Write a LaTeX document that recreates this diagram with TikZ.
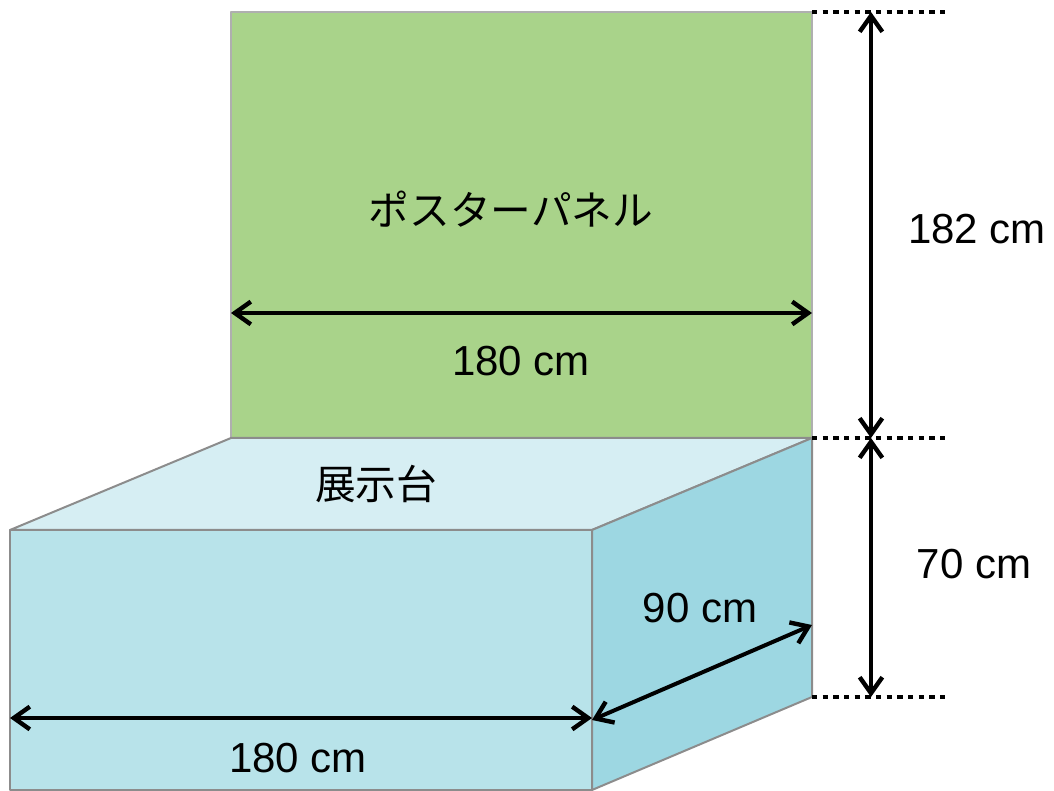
\documentclass[tikz,border=0pt]{standalone}
\usepackage{fontspec}
\setmainfont{Liberation Sans}
\newfontfamily\cjk{Noto Sans CJK JP}
\usetikzlibrary{arrows.meta}
\definecolor{panelgreen}{HTML}{A9D38A}
\definecolor{topface}{HTML}{D6EEF3}
\definecolor{frontface}{HTML}{B8E3EA}
\definecolor{sideface}{HTML}{9DD7E2}
\definecolor{edgegray}{HTML}{8C8C8C}
\begin{document}
\begin{tikzpicture}[x=0.75pt,y=-0.75pt,
  face/.style={draw=edgegray,line width=1.5pt,line join=round},
  dimarrow/.style={line width=3pt,{Straight Barb[length=12pt,width=17pt,line width=3.3pt]}-{Straight Barb[length=12pt,width=17pt,line width=3.3pt]}},
  guide/.style={line width=3.5pt,dash pattern=on 4pt off 4pt},
  lbl/.style={font=\fontsize{31.5}{36}\selectfont,inner sep=0pt},
  jlbl/.style={font=\cjk\fontsize{30.5}{35}\selectfont,inner sep=0pt}]
\useasboundingbox (0,0) rectangle (1054,791);
% coordinates
\coordinate (pTL) at (231,12);
\coordinate (pTR) at (812,12);
\coordinate (bBL) at (231,438);
\coordinate (bBR) at (812,438);
\coordinate (fTL) at (10,530);
\coordinate (fTR) at (592,530);
\coordinate (fBL) at (10,790);
\coordinate (fBR) at (592,790);
\coordinate (sBR) at (812,697);
% panel
\draw[face,fill=panelgreen,draw=edgegray!70] (bBL) rectangle (pTR);
% box faces
\draw[face,fill=topface] (fTL) -- (bBL) -- (bBR) -- (fTR) -- cycle;
\draw[face,fill=frontface] (fTL) rectangle (fBR);
\draw[face,fill=sideface] (fTR) -- (bBR) -- (sBR) -- (fBR) -- cycle;
% guides
\coordinate (g1) at (947,12);
\coordinate (g2) at (947,438);
\coordinate (g3) at (947,697);
\draw[guide] (pTR) -- (g1);
\draw[guide] (bBR) -- (g2);
\draw[guide] (sBR) -- (g3);
% vertical dimension arrows
\coordinate (v1) at (871,12);
\coordinate (v2) at (871,438);
\coordinate (v3) at (871,697);
\draw[dimarrow] (v1) -- (v2);
\draw[dimarrow] (v2) -- (v3);
% panel width arrow
\coordinate (h1) at (231,313);
\coordinate (h2) at (812,313);
\draw[dimarrow] (h1) -- (h2);
% front width arrow
\coordinate (f1) at (10,718);
\coordinate (f2) at (592,718);
\draw[dimarrow] (f1) -- (f2);
% depth arrow
\coordinate (d1) at (592,720);
\coordinate (d2) at (812,625);
\draw[dimarrow] (d1) -- (d2);
% labels
\node[jlbl] (tpanel) at (511,209) {ポスターパネル};
\node[lbl] (tw1) at (521,361) {180 cm};
\node[lbl] (th1) at (977,229) {182 cm};
\node[jlbl] (tbase) at (376,484) {展示台};
\node[lbl] (th2) at (974,564) {70 cm};
\node[lbl] (td) at (700,608) {90 cm};
\node[lbl] (tw2) at (298,758) {180 cm};
\end{tikzpicture}
\end{document}
